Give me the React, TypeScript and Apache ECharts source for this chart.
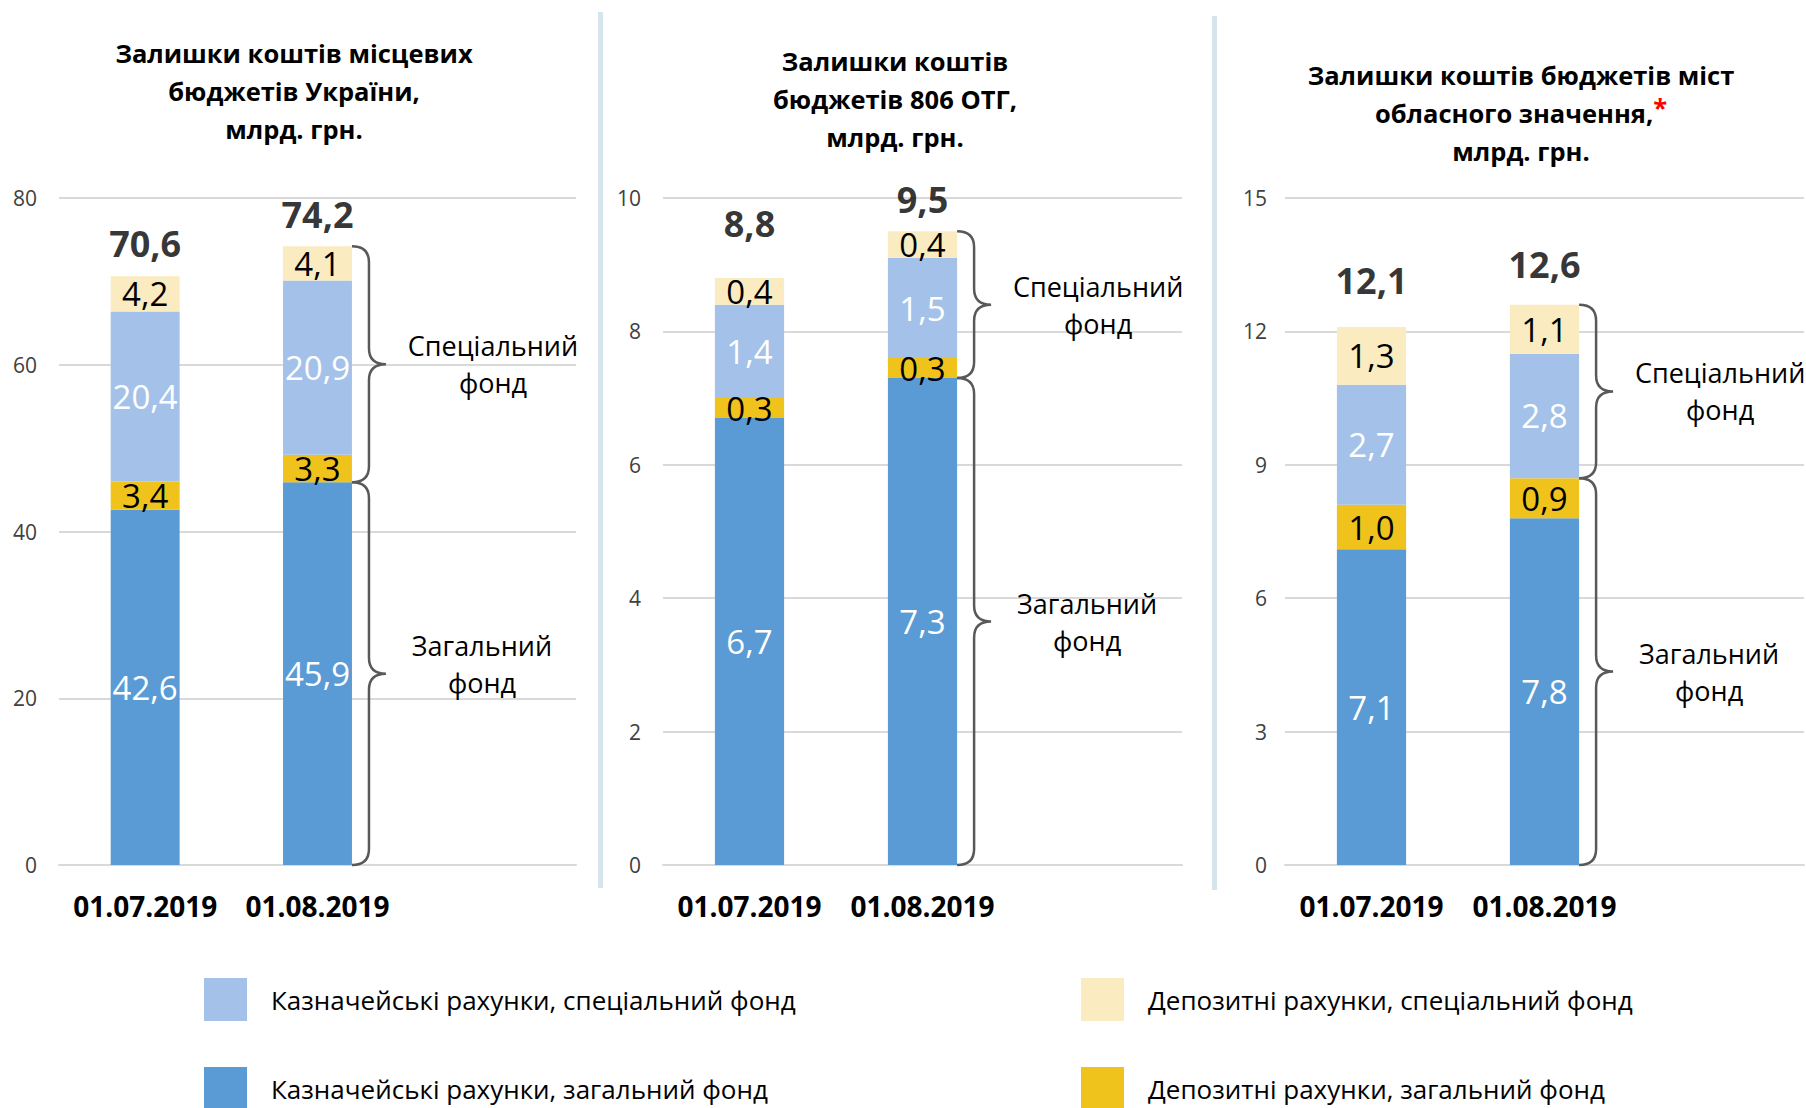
import React, { useEffect, useRef } from "react";
import * as echarts from "echarts";

const CATEGORIES = ["01.07.2019", "01.08.2019", ""];

const NAME_TREASURY_GEN = "Казначейські рахунки, загальний фонд";
const NAME_DEPOSIT_GEN = "Депозитні рахунки, загальний фонд";
const NAME_TREASURY_SPEC = "Казначейські рахунки, спеціальний фонд";
const NAME_DEPOSIT_SPEC = "Депозитні рахунки, спеціальний фонд";

// Panel 1: local budgets of Ukraine
const P1_TREASURY_GEN = [42.6, 45.9];
const P1_DEPOSIT_GEN = [3.4, 3.3];
const P1_TREASURY_SPEC = [20.4, 20.9];
const P1_DEPOSIT_SPEC = [4.2, 4.1];

// Panel 2: 806 OTG
const P2_TREASURY_GEN = [6.7, 7.3];
const P2_DEPOSIT_GEN = [0.3, 0.3];
const P2_TREASURY_SPEC = [1.4, 1.5];
const P2_DEPOSIT_SPEC = [0.4, 0.4];

// Panel 3: cities of oblast significance
const P3_TREASURY_GEN = [7.1, 7.8];
const P3_DEPOSIT_GEN = [1.0, 0.9];
const P3_TREASURY_SPEC = [2.7, 2.8];
const P3_DEPOSIT_SPEC = [1.3, 1.1];

const Y_MAX = [80, 10, 15];
const Y_INTERVAL = [20, 2, 3];

const TITLES = [
  "Залишки коштів місцевих\nбюджетів України,\nмлрд. грн.",
  "Залишки коштів\nбюджетів 806 ОТГ,\nмлрд. грн.",
  "{b|Залишки коштів бюджетів міст}\n{b|обласного значення,}{r|*}\n{b|млрд. грн.}",
];

const BRACE_LABEL_SPEC = "Спеціальний\nфонд";
const BRACE_LABEL_GEN = "Загальний\nфонд";
// where the two braces meet in the reference: on top of the treasury (false) or of the deposit (true) segment
const BRACE_SPLIT_ABOVE_DEPOSIT = [false, false, true];

// ---- styles / layout (not data) ----
const FONT = "'Open Sans', 'Noto Sans', sans-serif";
const C_TREASURY_GEN = "#5b9bd5";
const C_DEPOSIT_GEN = "#f0c31c";
const C_TREASURY_SPEC = "#a4c2e9";
const C_DEPOSIT_SPEC = "#faecc0";
const BAR_RATIO = 0.4;
const GRIDS = [
  { left: 59, width: 517 },
  { left: 663, width: 519 },
  { left: 1285, width: 519 },
];
const Y_LABEL_MARGIN = [22, 22, 18];
const TITLE_POS = [
  { x: 294, y: 29 },
  { x: 895, y: 37 },
  { x: 1521, y: 51 },
];
const TOTAL_GAPS = [
  [14, 13],
  [36, 13],
  [28, 22],
];
const GEN_LABEL_DY = [-10, 0, 0];

const fmt = (v: number) => v.toFixed(1).replace(".", ",");

const PANELS = [
  [P1_TREASURY_GEN, P1_DEPOSIT_GEN, P1_TREASURY_SPEC, P1_DEPOSIT_SPEC],
  [P2_TREASURY_GEN, P2_DEPOSIT_GEN, P2_TREASURY_SPEC, P2_DEPOSIT_SPEC],
  [P3_TREASURY_GEN, P3_DEPOSIT_GEN, P3_TREASURY_SPEC, P3_DEPOSIT_SPEC],
];

function makeBraceRender(genDy: number) {
  return function braceRender(params: any, api: any) {
    const cat = api.value(0);
    const split = api.value(1);
    const tot = api.value(2);
    const pT = api.coord([cat, tot]);
    const pS = api.coord([cat, split]);
    const p0 = api.coord([cat, 0]);
    const band = api.size([1, 0])[0];
    const x0 = pT[0] + (band * BAR_RATIO) / 2;
    const x1 = x0 + 17;
    const x2 = x0 + 34;
    const mk = (y1: number, y2: number) => {
      const ym = (y1 + y2) / 2;
      const r = Math.min(16, (y2 - y1) / 4);
      return (
        `M${x0},${y1} Q${x1},${y1} ${x1},${y1 + r} L${x1},${ym - r} ` +
        `Q${x1},${ym} ${x2},${ym} Q${x1},${ym} ${x1},${ym + r} ` +
        `L${x1},${y2 - r} Q${x1},${y2} ${x0},${y2}`
      );
    };
    const lineStyle = { fill: "none", stroke: "#595959", lineWidth: 2.5 };
    const textStyle = (t: string) => ({
      text: t,
      fontSize: 27,
      fontFamily: FONT,
      fill: "#000",
      align: "center",
      verticalAlign: "middle",
      lineHeight: 37,
    });
    return {
      type: "group",
      children: [
        { type: "path", shape: { pathData: mk(pT[1], pS[1]) }, style: lineStyle },
        { type: "path", shape: { pathData: mk(pS[1], p0[1]) }, style: lineStyle },
        { type: "text", x: x2 + 107, y: (pT[1] + pS[1]) / 2, style: textStyle(BRACE_LABEL_SPEC) },
        { type: "text", x: x2 + 96, y: (pS[1] + p0[1]) / 2 + genDy, style: textStyle(BRACE_LABEL_GEN) },
      ],
    };
  };
}

export default function App() {
  const ref = useRef<HTMLDivElement>(null);

  useEffect(() => {
    document.body.style.margin = "0";
    if (!ref.current) return;
    const chart = echarts.init(ref.current, null, { renderer: "svg" });

    const grid: any[] = [];
    const xAxis: any[] = [];
    const yAxis: any[] = [];
    const series: any[] = [];
    const title: any[] = [];

    const names = [NAME_TREASURY_GEN, NAME_DEPOSIT_GEN, NAME_TREASURY_SPEC, NAME_DEPOSIT_SPEC];
    const colors = [C_TREASURY_GEN, C_DEPOSIT_GEN, C_TREASURY_SPEC, C_DEPOSIT_SPEC];
    const labelColors = ["#fff", "#000", "#fff", "#000"];

    PANELS.forEach((panel, p) => {
      grid.push({ left: GRIDS[p].left, width: GRIDS[p].width, top: 198, height: 667 });
      xAxis.push({
        type: "category",
        gridIndex: p,
        data: CATEGORIES,
        axisLine: { show: true, lineStyle: { color: "#d9d9d9", width: 2 } },
        axisTick: { show: false },
        axisLabel: {
          interval: 0,
          color: "#000",
          fontSize: 28,
          fontWeight: "bold",
          fontFamily: FONT,
          margin: 27,
        },
      });
      yAxis.push({
        type: "value",
        gridIndex: p,
        min: 0,
        max: Y_MAX[p],
        interval: Y_INTERVAL[p],
        axisLine: { show: false },
        axisTick: { show: false },
        splitLine: { lineStyle: { color: "#d9d9d9", width: 2 } },
        axisLabel: { color: "#404040", fontSize: 21, fontFamily: FONT, margin: Y_LABEL_MARGIN[p] },
      });
      title.push({
        text: TITLES[p],
        left: TITLE_POS[p].x - 5,
        top: TITLE_POS[p].y,
        textAlign: "center",
        textStyle: {
          fontSize: 25.5,
          fontWeight: "bold",
          fontFamily: FONT,
          color: "#000",
          lineHeight: 38,
          rich: {
            b: { fontSize: 25.5, fontWeight: "bold", fontFamily: FONT, color: "#000", lineHeight: 38 },
            r: { fontSize: 25.5, fontWeight: "bold", fontFamily: FONT, color: "#ff0000", lineHeight: 38, verticalAlign: "top" },
          },
        },
      });

      panel.forEach((vals, k) => {
        series.push({
          type: "bar",
          name: names[k],
          xAxisIndex: p,
          yAxisIndex: p,
          stack: "s" + p,
          barWidth: BAR_RATIO * 100 + "%",
          data: vals,
          itemStyle: { color: colors[k] },
          label: {
            show: true,
            position: "inside",
            color: labelColors[k],
            fontSize: 33,
            fontFamily: FONT,
            formatter: (d: any) => fmt(d.value),
          },
          emphasis: { disabled: true },
        });
      });

      const totals = panel[0].map((_, i) =>
        Math.round(panel.reduce((s, arr) => s + arr[i], 0) * 10) / 10
      );
      series.push({
        type: "scatter",
        name: "total" + p,
        xAxisIndex: p,
        yAxisIndex: p,
        symbolSize: 1,
        itemStyle: { color: "rgba(0,0,0,0)" },
        silent: true,
        data: totals.map((t, i) => ({
          value: [i, t],
          label: { distance: TOTAL_GAPS[p][i] },
        })),
        label: {
          show: true,
          position: "top",
          color: "#000",
          fontSize: 36,
          fontWeight: "bold",
          fontFamily: FONT,
          formatter: (d: any) => fmt(d.value[1]),
        },
      });

      const split =
        Math.round((panel[0][1] + (BRACE_SPLIT_ABOVE_DEPOSIT[p] ? panel[1][1] : 0)) * 10) / 10;
      series.push({
        type: "custom",
        name: "brace" + p,
        xAxisIndex: p,
        yAxisIndex: p,
        clip: false,
        silent: true,
        z: 5,
        encode: { x: 0, y: [1, 2] },
        data: [[1, split, totals[1]]],
        renderItem: makeBraceRender(GEN_LABEL_DY[p]),
      });
    });

    const legendCommon = {
      orient: "vertical",
      top: 973,
      height: 250,
      itemWidth: 43,
      itemHeight: 43,
      itemGap: 46,
      icon: "rect",
      selectedMode: false,
      textStyle: { fontSize: 26, fontFamily: FONT, color: "#000", padding: [0, 0, 0, 19] },
    };

    chart.setOption({
      animation: false,
      backgroundColor: "#fff",
      title,
      grid,
      xAxis,
      yAxis,
      series,
      legend: [
        { ...legendCommon, left: 199, data: [NAME_TREASURY_SPEC, NAME_TREASURY_GEN] },
        { ...legendCommon, left: 1076, data: [NAME_DEPOSIT_SPEC, NAME_DEPOSIT_GEN] },
      ],
      graphic: [
        { type: "rect", shape: { x: 598, y: 12, width: 5, height: 876 }, style: { fill: "#d6e5ec" }, silent: true },
        { type: "rect", shape: { x: 1212, y: 16, width: 5, height: 874 }, style: { fill: "#d6e5ec" }, silent: true },
      ],
    });

    return () => chart.dispose();
  }, []);

  return <div ref={ref} style={{ width: 1806, height: 1108 }} />;
}
